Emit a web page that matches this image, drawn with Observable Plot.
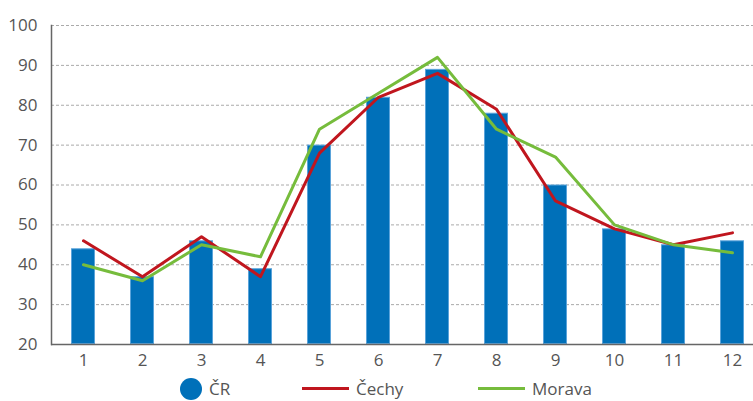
<!DOCTYPE html>
<html>
<head>
<meta charset="utf-8">
<script src="https://cdn.jsdelivr.net/npm/d3@7"></script>
<script src="https://cdn.jsdelivr.net/npm/@observablehq/plot@0.6"></script>
<style>
html,body{margin:0;padding:0;background:#fff;overflow:hidden;}
#chart{position:relative;width:753px;height:401px;font-family:"Open Sans",sans-serif;}
#legend{position:absolute;left:0;top:376px;width:753px;height:25px;font-size:17px;color:#555;}
#legend .item{position:absolute;top:0;height:25px;line-height:25px;}
</style>
</head>
<body>
<div id="chart"></div>
<script>
const months = ["1","2","3","4","5","6","7","8","9","10","11","12"];
const cr = [44, 37, 46, 39, 70, 82, 89, 78, 60, 49, 45, 46];
const cechy = [46, 37, 47, 37, 68, 82, 88, 79, 56, 49, 45, 48];
const morava = [40, 36, 45, 42, 74, 83, 92, 74, 67, 50, 45, 43];
const yTicks = [20, 30, 40, 50, 60, 70, 80, 90, 100];
const seriesNames = ["ČR", "Čechy", "Morava"];
const colors = ["#0070b9", "#c0161e", "#76bc3c"];

const barData = months.map((m, i) => ({month: m, value: cr[i]}));
const lineData = [
  ...months.map((m, i) => ({month: m, value: cechy[i], series: seriesNames[1]})),
  ...months.map((m, i) => ({month: m, value: morava[i], series: seriesNames[2]}))
];

const plot = Plot.plot({
  width: 753,
  height: 376,
  marginTop: 25,
  marginBottom: 32,
  marginLeft: 51,
  marginRight: 0,
  style: {fontFamily: "Open Sans, sans-serif", fontSize: "16px", color: "#555", overflow: "hidden"},
  x: {type: "band", domain: months, range: [51, 764], paddingInner: 0.6, paddingOuter: 0.3, label: null},
  y: {domain: [20, 100], ticks: yTicks, label: null},
  color: {domain: seriesNames.slice(1), range: colors.slice(1)},
  marks: [
    Plot.ruleY(yTicks.slice(1), {stroke: "#aaa", strokeWidth: 1, strokeDasharray: "3,2"}),
    Plot.barY(barData, {x: "month", y1: 20, y2: "value", fill: colors[0], stroke: "#5aa3da", strokeWidth: 1, inset: 0.5}),
    Plot.line(lineData, {x: "month", y: "value", z: "series", stroke: "series", strokeWidth: 3}),
    Plot.axisY({ticks: yTicks, tickSize: 0, tickPadding: 14, fontSize: 17}),
    Plot.axisX({tickSize: 0, tickPadding: 9, fontSize: 17}),
    Plot.frame({anchor: "left", stroke: "#666", strokeWidth: 1.5}),
    Plot.ruleY([20], {stroke: "#666", strokeWidth: 1.5})
  ]
});
document.getElementById("chart").appendChild(plot);

const legend = document.createElement("div");
legend.id = "legend";
legend.innerHTML = `
  <div class="item" style="left:180px;top:2px;width:22px;height:22px;border-radius:50%;background:${colors[0]}"></div>
  <div class="item" style="left:209px">${seriesNames[0]}</div>
  <div class="item" style="left:302px;top:11px;width:47px;height:3px;background:${colors[1]}"></div>
  <div class="item" style="left:356px">${seriesNames[1]}</div>
  <div class="item" style="left:478px;top:11px;width:47px;height:3px;background:${colors[2]}"></div>
  <div class="item" style="left:532px">${seriesNames[2]}</div>`;
document.getElementById("chart").appendChild(legend);
</script>
</body>
</html>
